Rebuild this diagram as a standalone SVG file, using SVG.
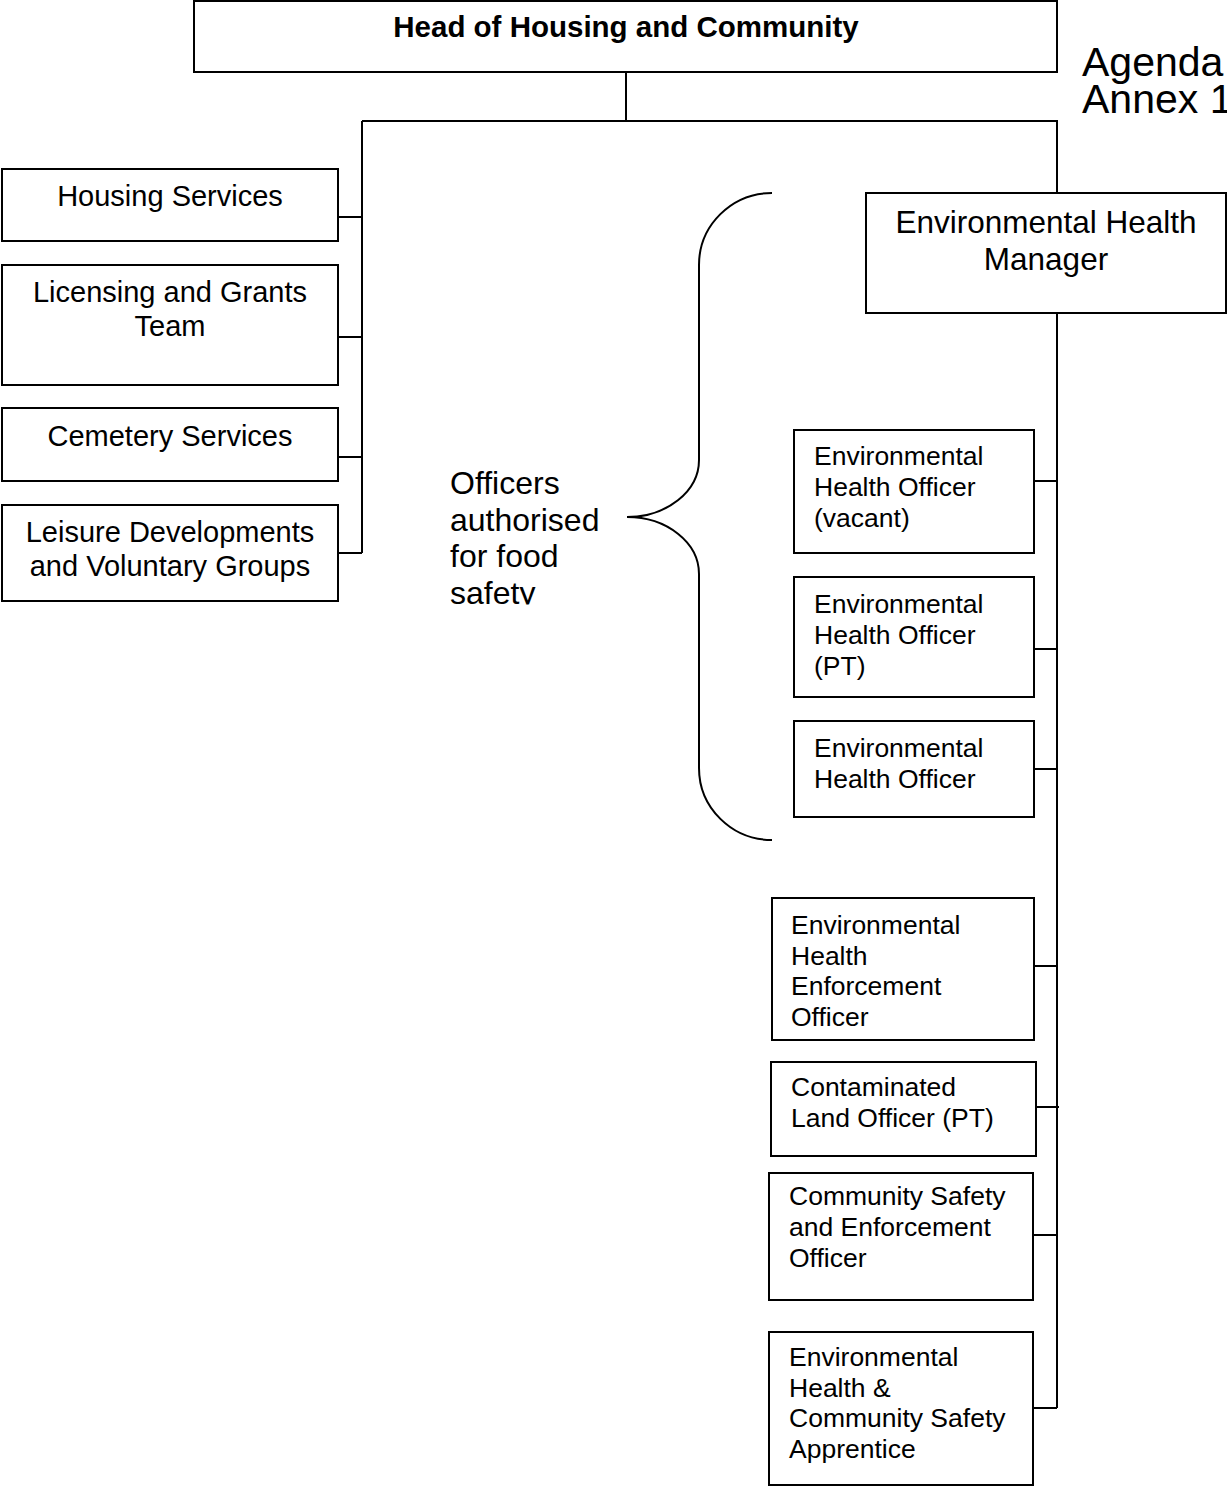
<svg xmlns="http://www.w3.org/2000/svg" width="1227" height="1492" viewBox="0 0 1227 1492">
<style>
.box{fill:#fff;stroke:#000;stroke-width:2}
.ln{fill:none;stroke:#000;stroke-width:2}
text{font-family:"Liberation Sans",Arial,sans-serif;fill:#000}
.hd{font-size:29.5px;font-weight:bold;text-anchor:middle}
.lt{font-size:29px;text-anchor:middle}
.mg{font-size:31.5px;text-anchor:middle}
.sm{font-size:26.5px}
.of{font-size:32px}
.ag{font-size:41px}
</style>
<defs>
<clipPath id="offclip"><rect x="400" y="440" width="220" height="164.5"/></clipPath>
</defs>
<rect width="1227" height="1492" fill="#fff"/>
<g id="connectors">
<path class="ln" d="M626,72 V121 M362,121 H1057 V193 M362,121 V553 M338,217 H362 M338,337 H362 M338,457 H362 M338,553 H362"/>
<path class="ln" d="M1057,313 V1408 M1034,481 H1057 M1034,649 H1057 M1034,769 H1057 M1034,966 H1057 M1036,1107 H1059 M1033,1235 H1057 M1033,1408 H1057"/>
</g>
<g id="head"><rect class="box" x="194" y="1" width="863" height="71"/><text class="hd" x="626" y="37">Head of Housing and Community</text></g>
<g id="agenda"><text class="ag" x="1082" y="76">Agenda</text><text class="ag" x="1082" y="113">Annex 1</text></g>
<g id="housing"><rect class="box" x="2" y="169" width="336" height="72"/><text class="lt" x="170" y="206">Housing Services</text></g>
<g id="licensing"><rect class="box" x="2" y="265" width="336" height="120"/><text class="lt" x="170" y="302">Licensing and Grants</text><text class="lt" x="170" y="336">Team</text></g>
<g id="cemetery"><rect class="box" x="2" y="408" width="336" height="73"/><text class="lt" x="170" y="446">Cemetery Services</text></g>
<g id="leisure"><rect class="box" x="2" y="505" width="336" height="96"/><text class="lt" x="170" y="542">Leisure Developments</text><text class="lt" x="170" y="576">and Voluntary Groups</text></g>
<g id="ehm"><rect class="box" x="866" y="193" width="360" height="120"/><text class="mg" x="1046" y="233">Environmental Health</text><text class="mg" x="1046" y="270">Manager</text></g>
<g id="brace"><path class="ln" d="M772,193 A73,72 0 0 0 699,265 L699,460 A72,57 0 0 1 627,517 A72,57 0 0 1 699,574 L699,768 A73,72 0 0 0 772,840"/></g>
<g id="officers" clip-path="url(#offclip)"><text class="of" x="450" y="493.5">Officers</text><text class="of" x="450" y="530.5">authorised</text><text class="of" x="450" y="567">for food</text><text class="of" x="450" y="604">safety</text></g>
<g id="eho-vacant"><rect class="box" x="794" y="430" width="240" height="123"/><text class="sm" x="814" y="465">Environmental</text><text class="sm" x="814" y="496">Health Officer</text><text class="sm" x="814" y="527">(vacant)</text></g>
<g id="eho-pt"><rect class="box" x="794" y="577" width="240" height="120"/><text class="sm" x="814" y="613">Environmental</text><text class="sm" x="814" y="644">Health Officer</text><text class="sm" x="814" y="675">(PT)</text></g>
<g id="eho"><rect class="box" x="794" y="721" width="240" height="96"/><text class="sm" x="814" y="757">Environmental</text><text class="sm" x="814" y="788">Health Officer</text></g>
<g id="eheo"><rect class="box" x="772" y="898" width="262" height="142"/><text class="sm" x="791" y="934">Environmental</text><text class="sm" x="791" y="965">Health</text><text class="sm" x="791" y="995">Enforcement</text><text class="sm" x="791" y="1026">Officer</text></g>
<g id="clo"><rect class="box" x="771" y="1062" width="265" height="94"/><text class="sm" x="791" y="1096">Contaminated</text><text class="sm" x="791" y="1127">Land Officer (PT)</text></g>
<g id="csEO"><rect class="box" x="769" y="1173" width="264" height="127"/><text class="sm" x="789" y="1205">Community Safety</text><text class="sm" x="789" y="1236">and Enforcement</text><text class="sm" x="789" y="1267">Officer</text></g>
<g id="apprentice"><rect class="box" x="769" y="1332" width="264" height="153"/><text class="sm" x="789" y="1366">Environmental</text><text class="sm" x="789" y="1397">Health &amp;</text><text class="sm" x="789" y="1427">Community Safety</text><text class="sm" x="789" y="1458">Apprentice</text></g>
</svg>
